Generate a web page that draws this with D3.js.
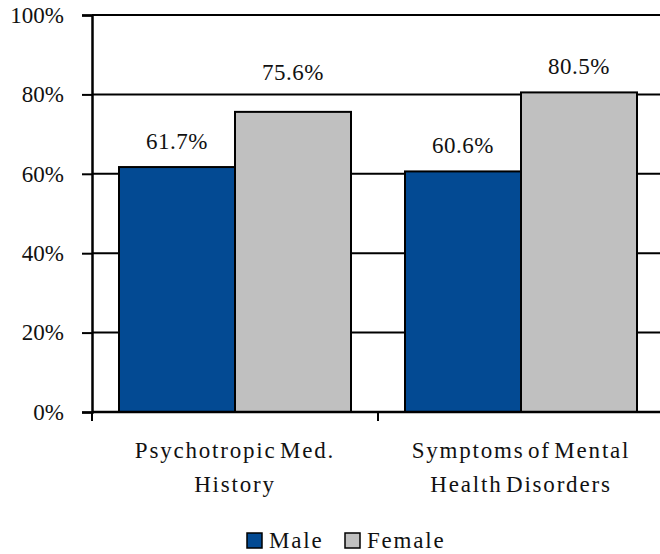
<!DOCTYPE html>
<html lang="en">
<head>
<meta charset="UTF-8">
<title>Male vs Female</title>
<style>
    body { margin: 0; background: #fff; }
    text { font-family: "Liberation Serif", "Times New Roman", serif; fill: #111; }
    .value-label { font-size: 23px; letter-spacing: 0.5px; }
    .cat-label { font-size: 23px; letter-spacing: 1.8px; word-spacing: -4px; }
    .legend-label { font-size: 23px; letter-spacing: 1.8px; }
</style>
</head>
<body>
<svg id="chart" width="660" height="554" font-family="Liberation Serif, serif"></svg>
<script src="https://d3js.org/d3.v7.min.js"></script>
<script>
    // --- data ---
    const categories = [["Psychotropic Med.", "History"], ["Symptoms of Mental", "Health Disorders"]];
    const seriesNames = ["Male", "Female"];
    const maleValues = [61.7, 60.6];
    const femaleValues = [75.6, 80.5];
    const yTicks = [0, 20, 40, 60, 80, 100];
    const colors = { Male: "#034a93", Female: "#c0c0c0" };

    const serif = "'Liberation Serif', serif";
    const svg = d3.select("#chart");
    const margin = { top: 15, right: -4, bottom: 142, left: 92 };
    const width = 660 - margin.left - margin.right;
    const height = 554 - margin.top - margin.bottom;
    const g = svg.append("g").attr("transform", `translate(${margin.left},${margin.top})`);

    const x0 = d3.scaleBand().domain(d3.range(categories.length)).range([0, width]).paddingInner(0).paddingOuter(0);
    const x1 = d3.scaleBand().domain(seriesNames).range([27, x0.bandwidth() - 27]);
    const y = d3.scaleLinear().domain([0, 100]).range([height, 0]);

    // gridlines
    g.selectAll(".grid").data(yTicks.filter(d => d > 0)).enter().append("line")
        .attr("x1", 0).attr("x2", width)
        .attr("y1", d => y(d)).attr("y2", d => y(d))
        .attr("stroke", "#000").attr("stroke-width", 2);

    // y axis
    const yAxis = g.append("g")
        .call(d3.axisLeft(y).tickValues(yTicks).tickFormat(d => d + "%").tickSize(10).tickPadding(18));
    yAxis.attr("font-family", null).attr("font-size", null);
    yAxis.select(".domain").attr("stroke", "#000").attr("stroke-width", 2.5);
    yAxis.selectAll(".tick line").attr("stroke", "#000").attr("stroke-width", 2);
    yAxis.selectAll(".tick text")
        .style("font-family", serif).style("font-size", "23px").attr("fill", "#111");

    // bars
    const rows = categories.map((c, i) => ({ i, Male: maleValues[i], Female: femaleValues[i] }));
    const groups = g.selectAll(".cat").data(rows).enter().append("g")
        .attr("transform", d => `translate(${x0(d.i)},0)`);

    groups.selectAll("rect").data(d => seriesNames.map(s => ({ s, v: d[s] }))).enter().append("rect")
        .attr("x", d => x1(d.s)).attr("width", x1.bandwidth())
        .attr("y", d => y(d.v)).attr("height", d => height - y(d.v))
        .attr("fill", d => colors[d.s]).attr("stroke", "#000").attr("stroke-width", 2);

    // value labels sit above the bar; nudged above a gridline if they would sit on it
    const labelY = v => {
        let base = y(v) - 18;
        yTicks.forEach(t => {
            const gy = y(t);
            if (gy < y(v) && base > gy - 16 && base < gy + 20) base = gy - 14;
        });
        return base;
    };
    groups.selectAll(".value-label").data(d => seriesNames.map(s => ({ s, v: d[s] }))).enter().append("text")
        .attr("class", "value-label")
        .style("font-family", serif)
        .attr("x", d => x1(d.s) + x1.bandwidth() / 2)
        .attr("y", d => labelY(d.v))
        .attr("text-anchor", "middle")
        .text(d => d.v.toFixed(1) + "%");

    // x axis
    g.append("line").attr("x1", 0).attr("x2", width).attr("y1", height).attr("y2", height)
        .attr("stroke", "#000").attr("stroke-width", 2.5);
    g.selectAll(".xtick").data(d3.range(categories.length + 1)).enter().append("line")
        .attr("x1", d => d * x0.bandwidth()).attr("x2", d => d * x0.bandwidth())
        .attr("y1", height).attr("y2", height + 9)
        .attr("stroke", "#000").attr("stroke-width", 2);

    categories.forEach((lines, i) => {
        const t = g.append("text").attr("class", "cat-label").attr("text-anchor", "middle")
            .style("font-family", serif)
            .attr("x", x0(i) + x0.bandwidth() / 2).attr("y", height + 46);
        lines.forEach((l, k) => t.append("tspan").attr("x", x0(i) + x0.bandwidth() / 2)
            .attr("dy", k === 0 ? 0 : 34).text(l));
    });

    // legend
    const legend = svg.append("g").attr("transform", "translate(247,533)");
    const legendX = [0, 98];
    seriesNames.forEach((s, i) => {
        const lg = legend.append("g").attr("transform", `translate(${legendX[i]},0)`);
        lg.append("rect").attr("width", 15).attr("height", 15)
            .attr("fill", colors[s]).attr("stroke", "#000").attr("stroke-width", 1.5);
        lg.append("text").attr("class", "legend-label").style("font-family", serif)
            .attr("x", 22).attr("y", 15).text(s);
    });
</script>
</body>
</html>
